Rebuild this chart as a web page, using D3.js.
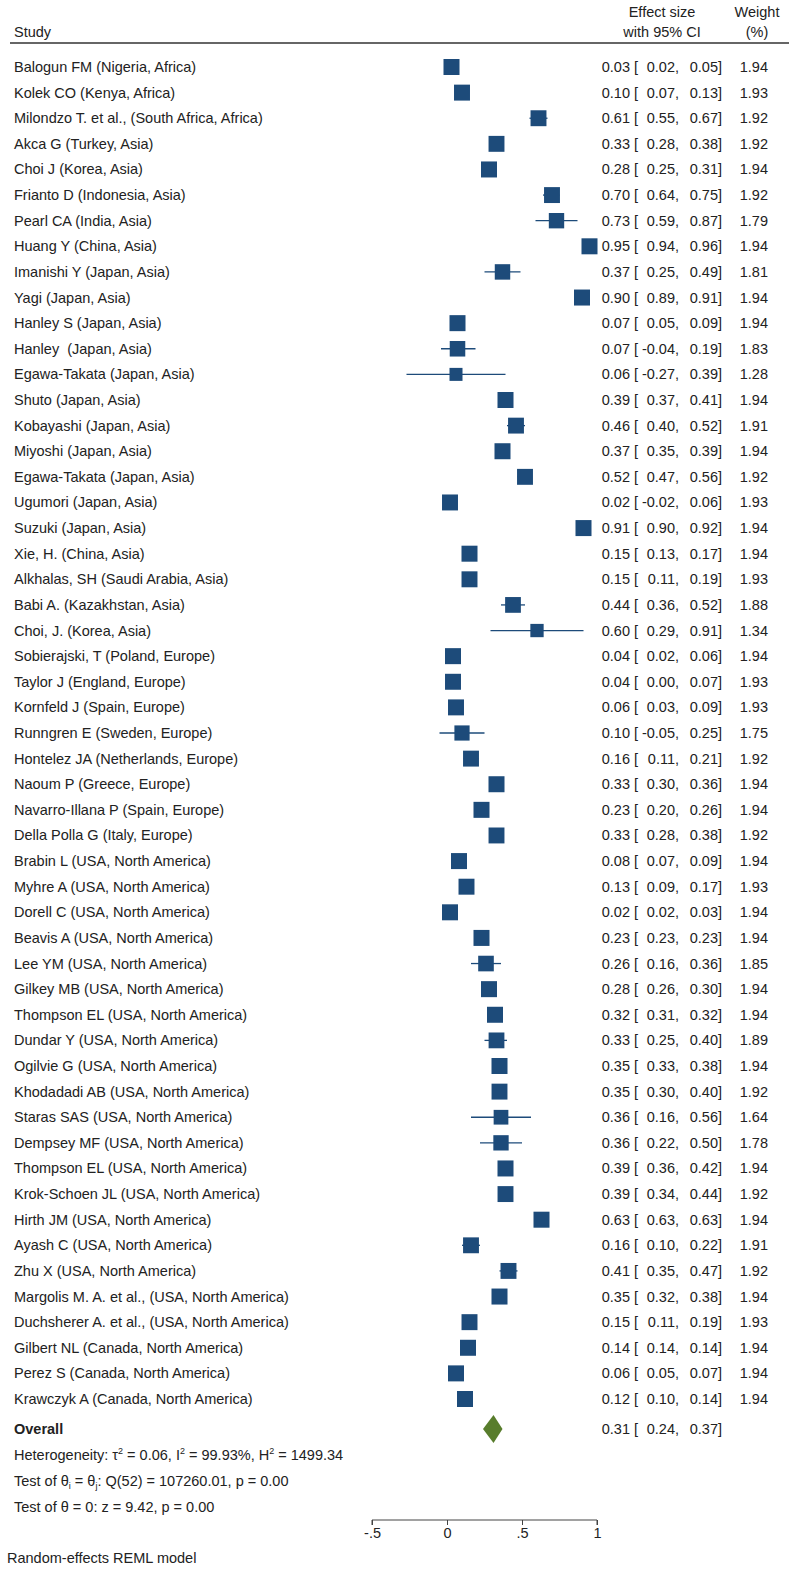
<!DOCTYPE html>
<html>
<head>
<meta charset="utf-8">
<script src="https://cdn.jsdelivr.net/npm/d3@7"></script>
<style>
  body{margin:0;background:#fff}
  svg text{font-family:"Liberation Sans",Arial,sans-serif;font-size:14.5px;fill:#222}
</style>
</head>
<body>
<div id="chart"></div>
<script>
var studies = [
  "Balogun FM (Nigeria, Africa)","Kolek CO (Kenya, Africa)","Milondzo T. et al., (South Africa, Africa)",
  "Akca G (Turkey, Asia)","Choi J (Korea, Asia)","Frianto D (Indonesia, Asia)","Pearl CA (India, Asia)",
  "Huang Y (China, Asia)","Imanishi Y (Japan, Asia)","Yagi (Japan, Asia)","Hanley S (Japan, Asia)",
  "Hanley  (Japan, Asia)","Egawa-Takata (Japan, Asia)","Shuto (Japan, Asia)","Kobayashi (Japan, Asia)",
  "Miyoshi (Japan, Asia)","Egawa-Takata (Japan, Asia)","Ugumori (Japan, Asia)","Suzuki (Japan, Asia)",
  "Xie, H. (China, Asia)","Alkhalas, SH (Saudi Arabia, Asia)","Babi A. (Kazakhstan, Asia)","Choi, J. (Korea, Asia)",
  "Sobierajski, T (Poland, Europe)","Taylor J (England, Europe)","Kornfeld J (Spain, Europe)",
  "Runngren E (Sweden, Europe)","Hontelez JA (Netherlands, Europe)","Naoum P (Greece, Europe)",
  "Navarro-Illana P (Spain, Europe)","Della Polla G (Italy, Europe)","Brabin L (USA, North America)",
  "Myhre A (USA, North America)","Dorell C (USA, North America)","Beavis A (USA, North America)",
  "Lee YM (USA, North America)","Gilkey MB (USA, North America)","Thompson EL (USA, North America)",
  "Dundar Y (USA, North America)","Ogilvie G (USA, North America)","Khodadadi AB (USA, North America)",
  "Staras SAS (USA, North America)","Dempsey MF (USA, North America)","Thompson EL (USA, North America)",
  "Krok-Schoen JL (USA, North America)","Hirth JM (USA, North America)","Ayash C (USA, North America)",
  "Zhu X (USA, North America)","Margolis M. A. et al., (USA, North America)","Duchsherer A. et al., (USA, North America)",
  "Gilbert NL (Canada, North America)","Perez S (Canada, North America)","Krawczyk A (Canada, North America)"
]
var effect = [0.03,0.10,0.61,0.33,0.28,0.70,0.73,0.95,0.37,0.90,0.07,0.07,0.06,0.39,0.46,0.37,0.52,0.02,0.91,0.15,0.15,0.44,0.60,
  0.04,0.04,0.06,0.10,0.16,0.33,0.23,0.33,0.08,0.13,0.02,0.23,0.26,0.28,0.32,0.33,0.35,0.35,0.36,0.36,0.39,0.39,0.63,0.16,0.41,0.35,0.15,0.14,0.06,0.12]
var lower = [0.02,0.07,0.55,0.28,0.25,0.64,0.59,0.94,0.25,0.89,0.05,-0.04,-0.27,0.37,0.40,0.35,0.47,-0.02,0.90,0.13,0.11,0.36,0.29,
  0.02,0.00,0.03,-0.05,0.11,0.30,0.20,0.28,0.07,0.09,0.02,0.23,0.16,0.26,0.31,0.25,0.33,0.30,0.16,0.22,0.36,0.34,0.63,0.10,0.35,0.32,0.11,0.14,0.05,0.10]
var upper = [0.05,0.13,0.67,0.38,0.31,0.75,0.87,0.96,0.49,0.91,0.09,0.19,0.39,0.41,0.52,0.39,0.56,0.06,0.92,0.17,0.19,0.52,0.91,
  0.06,0.07,0.09,0.25,0.21,0.36,0.26,0.38,0.09,0.17,0.03,0.23,0.36,0.30,0.32,0.40,0.38,0.40,0.56,0.50,0.42,0.44,0.63,0.22,0.47,0.38,0.19,0.14,0.07,0.14]
var weight = [1.94,1.93,1.92,1.92,1.94,1.92,1.79,1.94,1.81,1.94,1.94,1.83,1.28,1.94,1.91,1.94,1.92,1.93,1.94,1.94,1.93,1.88,1.34,
  1.94,1.93,1.93,1.75,1.92,1.94,1.94,1.92,1.94,1.93,1.94,1.94,1.85,1.94,1.94,1.89,1.94,1.92,1.64,1.78,1.94,1.92,1.94,1.91,1.92,1.94,1.93,1.94,1.94,1.94]
var overall = {es:0.31, lo:0.24, hi:0.37}
var xTicks = [-0.5, 0, 0.5, 1]
var xTickLabels = ["-.5","0",".5","1"]

var width = 789, height = 1570
// plain hyphen as minus sign, like the original output
var f2 = function(v){ return d3.format(".2f")(v).replace("\u2212","-") }
var svg = d3.select("#chart").append("svg").attr("width",width).attr("height",height)

var x = d3.scaleLinear().domain([-0.5,1]).range([372,597])
var y = d3.scaleLinear().domain([0,52]).range([67,1399])
var side = d3.scaleSqrt().domain([0,1.94]).range([0,16])
var blue = "#1d4b7a", green = "#587d2c"

// header
svg.append("text").attr("x",14).attr("y",37).text("Study")
svg.append("text").attr("x",662).attr("y",17).attr("text-anchor","middle").text("Effect size")
svg.append("text").attr("x",662).attr("y",37).attr("text-anchor","middle").text("with 95% CI")
svg.append("text").attr("x",757).attr("y",17).attr("text-anchor","middle").text("Weight")
svg.append("text").attr("x",757).attr("y",37).attr("text-anchor","middle").text("(%)")
svg.append("line").attr("x1",10).attr("x2",789).attr("y1",43).attr("y2",43).attr("stroke","#333").attr("stroke-width",1.5)

var rows = svg.append("g").selectAll("g").data(studies).enter().append("g")
  .attr("transform",function(d,i){return "translate(0,"+y(i)+")"})

rows.append("text").attr("x",14).attr("y",5).text(function(d){return d}).style("white-space","pre")

rows.append("line")
  .attr("x1",function(d,i){return x(lower[i])}).attr("x2",function(d,i){return x(upper[i])})
  .attr("y1",0).attr("y2",0).attr("stroke",blue).attr("stroke-width",1.3)

rows.append("rect")
  .attr("x",function(d,i){return x(effect[i])-side(weight[i])/2})
  .attr("y",function(d,i){return -side(weight[i])/2})
  .attr("width",function(d,i){return side(weight[i])})
  .attr("height",function(d,i){return side(weight[i])})
  .attr("fill",blue)

function ciText(g, es, lo, hi){
  g.append("text").attr("x",630).attr("y",5).attr("text-anchor","end").text(f2(es))
  g.append("text").attr("x",634).attr("y",5).text("[")
  g.append("text").attr("x",679).attr("y",5).attr("text-anchor","end").text(f2(lo)+",")
  g.append("text").attr("x",722).attr("y",5).attr("text-anchor","end").text(f2(hi)+"]")
}
rows.each(function(d,i){
  var g = d3.select(this)
  ciText(g, effect[i], lower[i], upper[i])
  g.append("text").attr("x",768).attr("y",5).attr("text-anchor","end").text(f2(weight[i]))
})

// overall
var og = svg.append("g").attr("transform","translate(0,1429)")
og.append("text").attr("x",14).attr("y",5).attr("font-weight","bold").text("Overall")
og.append("path")
  .attr("d","M"+x(overall.lo)+",0L"+x(overall.es)+",-14L"+x(overall.hi)+",0L"+x(overall.es)+",14Z")
  .attr("fill",green)
ciText(og, overall.es, overall.lo, overall.hi)

// statistics
var t1 = svg.append("text").attr("x",14).attr("y",1460)
t1.append("tspan").text("Heterogeneity: \u03c4")
t1.append("tspan").attr("dy",-6).attr("font-size",9).text("2")
t1.append("tspan").attr("dy",6).text(" = 0.06, I")
t1.append("tspan").attr("dy",-6).attr("font-size",9).text("2")
t1.append("tspan").attr("dy",6).text(" = 99.93%, H")
t1.append("tspan").attr("dy",-6).attr("font-size",9).text("2")
t1.append("tspan").attr("dy",6).text(" = 1499.34")

var t2 = svg.append("text").attr("x",14).attr("y",1486)
t2.append("tspan").text("Test of \u03b8")
t2.append("tspan").attr("dy",3).attr("font-size",9).text("i")
t2.append("tspan").attr("dy",-3).text(" = \u03b8")
t2.append("tspan").attr("dy",3).attr("font-size",9).text("j")
t2.append("tspan").attr("dy",-3).text(": Q(52) = 107260.01, p = 0.00")

svg.append("text").attr("x",14).attr("y",1512).text("Test of \u03b8 = 0: z = 9.42, p = 0.00")

// axis
var ax = svg.append("g").attr("transform","translate(0,1520)")
  .call(d3.axisBottom(x).tickValues(xTicks).tickSize(5).tickPadding(3)
    .tickFormat(function(d,i){return xTickLabels[i]}))
ax.select(".domain").attr("stroke","#444").attr("d","M372,5V0H597V5")
ax.selectAll(".tick line").attr("stroke","#444")
ax.selectAll("text").attr("font-size",14.5).attr("font-family","Liberation Sans, Arial, sans-serif").attr("fill","#222")

svg.append("text").attr("x",7).attr("y",1563).text("Random-effects REML model")
</script>
</body>
</html>
